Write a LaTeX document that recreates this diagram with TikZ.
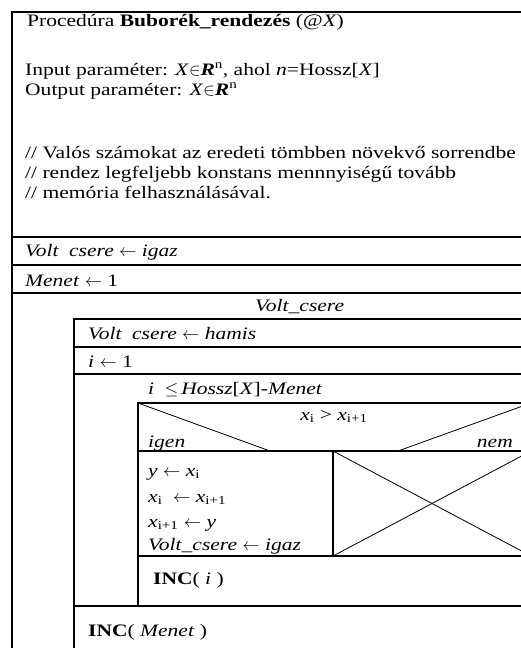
\documentclass[tikz,border=0pt]{standalone}
\usepackage{fontspec}
\setmainfont{Liberation Serif}[FakeStretch=1.23]
\usepackage{tikz}

\newcommand{\vc}{\textit{Volt\hspace{0.6em}csere}}
\newcommand{\lar}{$\leftarrow$}

\begin{document}
\begin{tikzpicture}[x=1pt,y=-1pt,
    ln/.style={line width=1.6pt},
    diag/.style={line width=0.8pt},
    txt/.style={anchor=base west, inner sep=0pt, font=\fontsize{17.5}{20}\selectfont}]
    \useasboundingbox (0,0) rectangle (521,648);
    \clip (0,0) rectangle (521,648);
    % outer frame and rows
    \draw[ln] (12,660)--(12,12)--(540,12);
    \draw[ln] (12,237)--(540,237);
    \draw[ln] (12,265)--(540,265);
    \draw[ln] (12,293)--(540,293);
    % outer loop body
    \draw[ln] (74,660)--(74,319)--(540,319);
    \draw[ln] (74,347)--(540,347);
    \draw[ln] (74,374)--(540,374);
    \draw[ln] (74,606)--(540,606);
    % inner loop body
    \draw[ln] (138,606)--(138,403)--(540,403);
    \draw[ln] (138,451)--(540,451);
    \draw[ln] (138,556)--(540,556);
    \draw[ln] (333,451)--(333,556);
    \draw[diag] (138,403)--(270,451);
    \draw[diag] (531,403)--(398,451);
    \draw[diag] (333,451)--(531,556);
    \draw[diag] (333,556)--(531,451);
    % texts
    \node[txt] (proc) at (27,26) {Procedúra \textbf{Buborék\_rendezés} (\textit{@X})};
    \node[txt] (inp) at (25,75) {Input paraméter: \textit{X}$\in$\textbf{\textit{R}}\textsuperscript{n}, ahol \textit{n}=Hossz[\textit{X}]};
    \node[txt] (outp) at (25,95) {Output paraméter: \textit{X}$\in$\textbf{\textit{R}}\textsuperscript{n}};
    \node[txt] (com1) at (25,158) {// Valós számokat az eredeti tömbben növekvő sorrendbe};
    \node[txt] (com2) at (25,178) {// rendez legfeljebb konstans mennnyiségű tovább};
    \node[txt] (com3) at (25,198) {// memória felhasználásával.};
    \node[txt] (init) at (25,256) {\vc{} \lar{} \textit{igaz}};
    \node[txt] (menet) at (25,286) {\textit{Menet} \lar{} 1};
    \node[txt] (whl) at (255,311) {\textit{Volt\_csere}};
    \node[txt] (reset) at (88,339) {\vc{} \lar{} \textit{hamis}};
    \node[txt] (ione) at (88,367) {\textit{i} \lar{} 1};
    \node[txt] (cond) at (148,394) {\textit{i} \ $\le$\,\textit{Hossz}[\textit{X}]-\textit{Menet}};
    \node[txt, anchor=base] (test) at (334,420) {\textit{x}\textsubscript{i} > \textit{x}\textsubscript{i+1}};
    \node[txt] (yes) at (148,447) {\textit{igen}};
    \node[txt, anchor=base east] (no) at (513,447) {\textit{nem}};
    \node[txt] (sw1) at (148,476) {\textit{y} \lar{} \textit{x}\textsubscript{i}};
    \node[txt] (sw2) at (148,502) {\textit{x}\textsubscript{i} \ \lar{} \textit{x}\textsubscript{i+1}};
    \node[txt] (sw3) at (148,527) {\textit{x}\textsubscript{i+1} \lar{} \textit{y}};
    \node[txt] (sw4) at (148,550) {\textit{Volt\_csere} \lar{} \textit{igaz}};
    \node[txt] (inci) at (153,584) {\textbf{INC}( \textit{i} )};
    \node[txt] (incm) at (88,636) {\textbf{INC}( \textit{Menet} )};
\end{tikzpicture}
\end{document}
